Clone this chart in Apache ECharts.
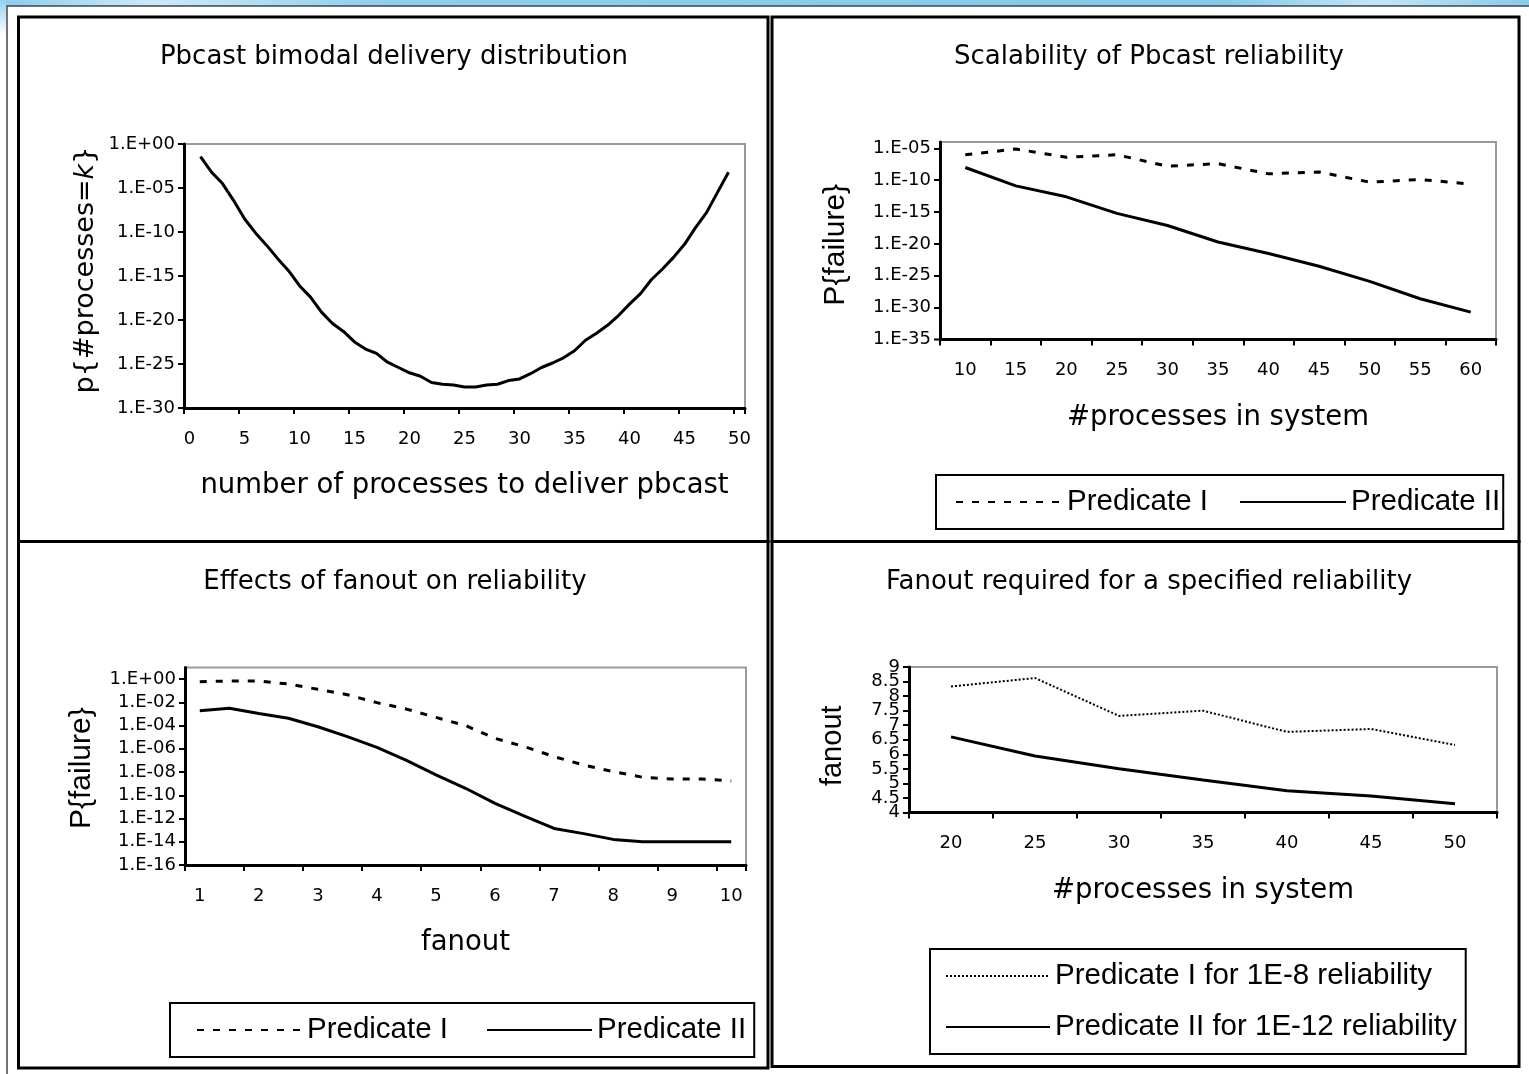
<!DOCTYPE html>
<html>
<head>
<meta charset="utf-8">
<title>Pbcast reliability</title>
<script src="https://cdn.jsdelivr.net/npm/echarts@6/dist/echarts.min.js"></script>
<style>
  html, body { margin: 0; padding: 0; background: #fff; }
  #chart { width: 1529px; height: 1074px; }
</style>
</head>
<body>
<div id="chart"></div>
<script>
// ---------- Pbcast bimodal delivery distribution ----------
const bimodalK = ['0','1','2','3','4','5','6','7','8','9','10','11','12','13','14','15','16','17','18','19','20',
  '21','22','23','24','25','26','27','28','29','30','31','32','33','34','35','36','37','38','39','40',
  '41','42','43','44','45','46','47','48','49','50'];
const bimodalP = [null, 3.6e-2, 6.3e-4, 3.2e-5, 4.0e-7, 3.2e-9, 7.9e-11, 3.2e-12, 1.0e-13, 4.0e-15, 7.9e-17,
  4.0e-18, 7.9e-20, 4.0e-21, 5.0e-22, 3.2e-23, 5.0e-24, 1.6e-24, 1.6e-25, 4.0e-26, 1.0e-26,
  4.0e-27, 7.9e-28, 5.0e-28, 4.0e-28, 2.5e-28, 2.5e-28, 4.0e-28, 5.0e-28, 1.3e-27, 2.0e-27,
  7.9e-27, 4.0e-26, 1.3e-25, 5.0e-25, 3.2e-24, 5.0e-23, 3.2e-22, 2.5e-21, 3.2e-20, 6.3e-19,
  1.0e-17, 4.0e-16, 6.3e-15, 1.3e-13, 4.0e-12, 3.2e-10, 1.6e-8, 3.2e-6, 6.3e-4, null];

// ---------- Scalability of Pbcast reliability ----------
const scaleProcs = ['10','15','20','25','30','35','40','45','50','55','60'];
const scalePredI  = [1.0e-6, 7.9e-6, 4.0e-7, 1.0e-6, 1.6e-8, 4.0e-8, 1.0e-9, 2.0e-9, 5.0e-11, 1.3e-10, 2.5e-11];
const scalePredII = [1.0e-8, 1.3e-11, 2.5e-13, 6.3e-16, 7.9e-18, 2.0e-20, 3.2e-22, 3.2e-24, 1.3e-26, 2.5e-29, 2.0e-31];
const scaleAxisRange = [1e-35, 1e-4];

// ---------- Effects of fanout on reliability ----------
const fanoutValues = ['1','1.5','2','2.5','3','3.5','4','4.5','5','5.5','6','6.5','7','7.5','8','8.5','9','9.5','10'];
const fanoutPredI  = [0.59, 0.68, 0.68, 0.37, 0.13, 0.045, 9.3e-3, 2.6e-3, 5.0e-4, 1.0e-4, 7.9e-6, 1.5e-6,
  2.1e-7, 4.0e-8, 1.1e-8, 3.5e-9, 2.5e-9, 2.5e-9, 1.7e-9];
const fanoutPredII = [1.9e-3, 3.0e-3, 1.1e-3, 4.2e-4, 7.9e-5, 1.1e-5, 1.3e-6, 1.0e-7, 5.6e-9, 4.0e-10, 2.0e-11,
  1.6e-12, 1.4e-13, 5.0e-14, 1.6e-14, 1.0e-14, 1.0e-14, 1.0e-14, 1.0e-14];
const fanoutAxisRange = [1e-16, 10];

// ---------- Fanout required for a specified reliability ----------
const reqProcs = ['20','25','30','35','40','45','50'];
const reqFanoutI  = [8.33, 8.62, 7.32, 7.5, 6.77, 6.87, 6.32];
const reqFanoutII = [6.6, 5.94, 5.5, 5.12, 4.75, 4.57, 4.3];
const reqAxisRange = [4, 9];

const panelTitles = [
  'Pbcast bimodal delivery distribution',
  'Scalability of Pbcast reliability',
  'Effects of fanout on reliability',
  'Fanout required for a specified reliability'
];

// ---------- shared styles ----------
const ROUND = 'DejaVu Sans';
const ARIAL = 'Liberation Sans, Arial, sans-serif';
const TICK_FONT = 18;
const LABEL_MARGIN = 9;

function expLabel(v) {
  const e = Math.round(Math.log10(v));
  const a = Math.abs(e);
  return '1.E' + (e >= 0 ? '+' : '-') + (a < 10 ? '0' : '') + a;
}

const axisLine = { show: true, onZero: false, lineStyle: { color: '#000', width: 3 } };
const tick = { show: true, inside: false, length: 6, lineStyle: { color: '#000', width: 2 } };
const tickLabel = { color: '#000', fontFamily: ROUND, fontSize: TICK_FONT };
const xName = { color: '#000', fontFamily: ROUND, fontSize: 27.5 };
const noSplit = { show: false };

const solid = { color: '#000', width: 3, type: 'solid' };
const dashed = { color: '#000', width: 3, type: [7, 9] };
const dotted = { color: '#000', width: 2, type: [2, 2] };

function lineSeries(name, xi, yi, data, style) {
  return {
    type: 'line', name: name, xAxisIndex: xi, yAxisIndex: yi, data: data,
    symbol: 'none', showSymbol: false, color: '#000', lineStyle: style,
    connectNulls: false, animation: false, silent: true
  };
}

function catX(gi, data, every, title) {
  return {
    gridIndex: gi, type: 'category', data: data, boundaryGap: true,
    axisLine: axisLine,
    axisTick: Object.assign({}, tick, { interval: every, alignWithLabel: false }),
    axisLabel: Object.assign({}, tickLabel, { interval: every, margin: 22 }),
    splitLine: noSplit,
    name: title, nameLocation: 'middle', nameGap: 64, nameTextStyle: xName
  };
}

const legendBox = {
  orient: 'horizontal', selectedMode: false, borderColor: '#000', borderWidth: 2,
  itemHeight: 20, backgroundColor: '#fff',
  itemStyle: { opacity: 0, color: 'transparent', borderWidth: 0 },
  textStyle: { color: '#000', fontFamily: ARIAL, fontSize: 29.5, lineHeight: 30 }
};

function frameRect(x, y, w, h) {
  return { type: 'rect', silent: true, z: -5, shape: { x: x, y: y, width: w, height: h },
           style: { fill: 'none', stroke: '#000', lineWidth: 3 } };
}

function titleText(t, x, y) {
  return { type: 'text', silent: true, x: x, y: y,
           style: { text: t, fill: '#000', fontFamily: ROUND, fontSize: 26, align: 'center', verticalAlign: 'middle' } };
}

const grids = [
  { left: 184, top: 144, width: 561, height: 264 },
  { left: 940, top: 142, width: 556, height: 197.5 },
  { left: 185, top: 667.4, width: 561, height: 197.6 },
  { left: 909, top: 667, width: 588, height: 145.5 }
];

const graphics = [
  { type: 'rect', silent: true, z: -10, shape: { x: 0, y: 0, width: 1529, height: 6 },
    style: { fill: new echarts.graphic.LinearGradient(0, 0, 1, 0, [
      { offset: 0, color: '#8fcbea' }, { offset: 0.1, color: '#cde9f7' }, { offset: 0.25, color: '#92cdeb' },
      { offset: 0.8, color: '#86c8e8' }, { offset: 0.9, color: '#c4e5f5' }, { offset: 1, color: '#8ccae9' }]) } },
  { type: 'rect', silent: true, z: -10, shape: { x: 0, y: 0, width: 6, height: 36 },
    style: { fill: new echarts.graphic.LinearGradient(0, 0, 0, 1, [
      { offset: 0, color: '#98d0ec' }, { offset: 1, color: '#ffffff' }]) } },
  { type: 'rect', silent: true, z: -9, shape: { x: 7, y: 6, width: 1540, height: 1100 },
    style: { fill: 'none', stroke: '#444', lineWidth: 1.5 } },
  frameRect(18.5, 17, 749.5, 524.5),
  frameRect(772, 17, 747, 524.5),
  frameRect(18.5, 541.5, 749.5, 526.5),
  frameRect(772, 541.5, 747, 525),
  titleText(panelTitles[0], 394, 57),
  titleText(panelTitles[1], 1149, 57),
  titleText(panelTitles[2], 395, 582),
  titleText(panelTitles[3], 1149, 582)
];

const option = {
  animation: false,
  backgroundColor: '#fff',
  graphic: graphics,
  grid: grids.map(g => Object.assign({ show: true, borderColor: '#9a9a9a', borderWidth: 2, backgroundColor: '#fff',
                                        containLabel: false, outerBoundsMode: 'none' }, g)),
  xAxis: [
    catX(0, bimodalK, 4, 'number of processes to deliver pbcast'),
    catX(1, scaleProcs, 0, '#processes in system'),
    catX(2, fanoutValues, 1, 'fanout'),
    catX(3, reqProcs, 0, '#processes in system')
  ],
  yAxis: [
    {
      // extent follows the data, rounded out to whole decades (1E-30 .. 1E+00)
      gridIndex: 0, type: 'log', logBase: 10, interval: 5,
      axisLine: axisLine, axisTick: tick, splitLine: noSplit,
      axisLabel: Object.assign({}, tickLabel, { margin: LABEL_MARGIN, formatter: expLabel }),
      name: 'p{#processes={i|k}}', nameLocation: 'middle', nameGap: 85,
      nameTextStyle: { color: '#000', fontFamily: ROUND, fontSize: 27, padding: [0, 0, 0, 12],
        rich: { i: { color: '#000', fontFamily: ROUND, fontSize: 27, fontStyle: 'italic' } } }
    },
    {
      gridIndex: 1, type: 'log', logBase: 10, min: scaleAxisRange[0], max: scaleAxisRange[1], interval: 5,
      axisLine: axisLine, axisTick: tick, splitLine: noSplit,
      axisLabel: Object.assign({}, tickLabel, { margin: LABEL_MARGIN, formatter: expLabel,
                                                showMinLabel: false, showMaxLabel: false }),
      name: 'P{failure}', nameLocation: 'middle', nameGap: 89,
      nameTextStyle: { color: '#000', fontFamily: ARIAL, fontSize: 30, padding: [0, 8, 0, 0] }
    },
    {
      gridIndex: 2, type: 'log', logBase: 10, min: fanoutAxisRange[0], max: fanoutAxisRange[1], interval: 2,
      axisLine: axisLine, axisTick: tick, splitLine: noSplit,
      axisLabel: Object.assign({}, tickLabel, { margin: LABEL_MARGIN, formatter: expLabel, showMaxLabel: false }),
      name: 'P{failure}', nameLocation: 'middle', nameGap: 88,
      nameTextStyle: { color: '#000', fontFamily: ARIAL, fontSize: 30, padding: [0, 4, 0, 0] }
    },
    {
      // inner half-unit labels 4.5 .. 8.5 (the end labels come from the companion axis below)
      gridIndex: 3, type: 'value', min: reqAxisRange[0], max: reqAxisRange[1], interval: 0.5,
      axisLine: axisLine, axisTick: tick, splitLine: noSplit,
      axisLabel: Object.assign({}, tickLabel, { margin: LABEL_MARGIN, hideOverlap: false,
                                                showMinLabel: false, showMaxLabel: false }),
      name: 'fanout', nameLocation: 'middle', nameGap: 62,
      nameTextStyle: { color: '#000', fontFamily: ARIAL, fontSize: 29, padding: [0, 12, 0, 0] }
    },
    {
      // companion axis on the same range carrying the end labels 4 and 9
      gridIndex: 3, type: 'value', position: 'left', min: reqAxisRange[0], max: reqAxisRange[1],
      interval: reqAxisRange[1] - reqAxisRange[0],
      axisLine: { show: false }, axisTick: tick, splitLine: noSplit,
      axisLabel: Object.assign({}, tickLabel, { margin: LABEL_MARGIN, showMinLabel: true, showMaxLabel: true })
    }
  ],
  legend: [
    Object.assign({}, legendBox, {
      data: ['Predicate I', 'Predicate II'], left: 936, top: 475,
      itemWidth: 106, itemGap: 31, padding: [12, 3, 12, 19]
    }),
    Object.assign({}, legendBox, {
      data: ['Predicate I', 'Predicate II'], left: 170, top: 1003,
      itemWidth: 105, itemGap: 38, padding: [12, 8, 12, 26]
    }),
    Object.assign({}, legendBox, {
      orient: 'vertical',
      data: ['Predicate I for 1E-8 reliability', 'Predicate II for 1E-12 reliability'],
      left: 930, top: 949, itemWidth: 104, itemGap: 21, padding: [12, 9, 12, 15]
    })
  ],
  series: [
    lineSeries('p', 0, 0, bimodalP, solid),
    lineSeries('Predicate I', 1, 1, scalePredI, dashed),
    lineSeries('Predicate II', 1, 1, scalePredII, solid),
    lineSeries('Predicate I', 2, 2, fanoutPredI, dashed),
    lineSeries('Predicate II', 2, 2, fanoutPredII, solid),
    lineSeries('Predicate I for 1E-8 reliability', 3, 3, reqFanoutI, dotted),
    lineSeries('Predicate II for 1E-12 reliability', 3, 3, reqFanoutII, solid)
  ]
};

const chart = echarts.init(document.getElementById('chart'), null, { renderer: 'canvas' });
chart.setOption(option);

// The bottom decade of the scalability axis (1E-35) is labelled here, positioned
// through the axis' own scale, because the built-in min label rounds it to zero.
const minY = chart.convertToPixel({ yAxisIndex: 1 }, scaleAxisRange[0]);
const axisX = grids[1].left;
graphics.push(
  { type: 'text', silent: true, x: axisX - LABEL_MARGIN, y: minY,
    style: { text: expLabel(scaleAxisRange[0]), fill: '#000', fontFamily: ROUND, fontSize: TICK_FONT,
             align: 'right', verticalAlign: 'middle' } },
  { type: 'line', silent: true, shape: { x1: axisX - 6, y1: minY, x2: axisX, y2: minY },
    style: { stroke: '#000', lineWidth: 2 } }
);
chart.setOption({ graphic: graphics });
</script>
</body>
</html>
